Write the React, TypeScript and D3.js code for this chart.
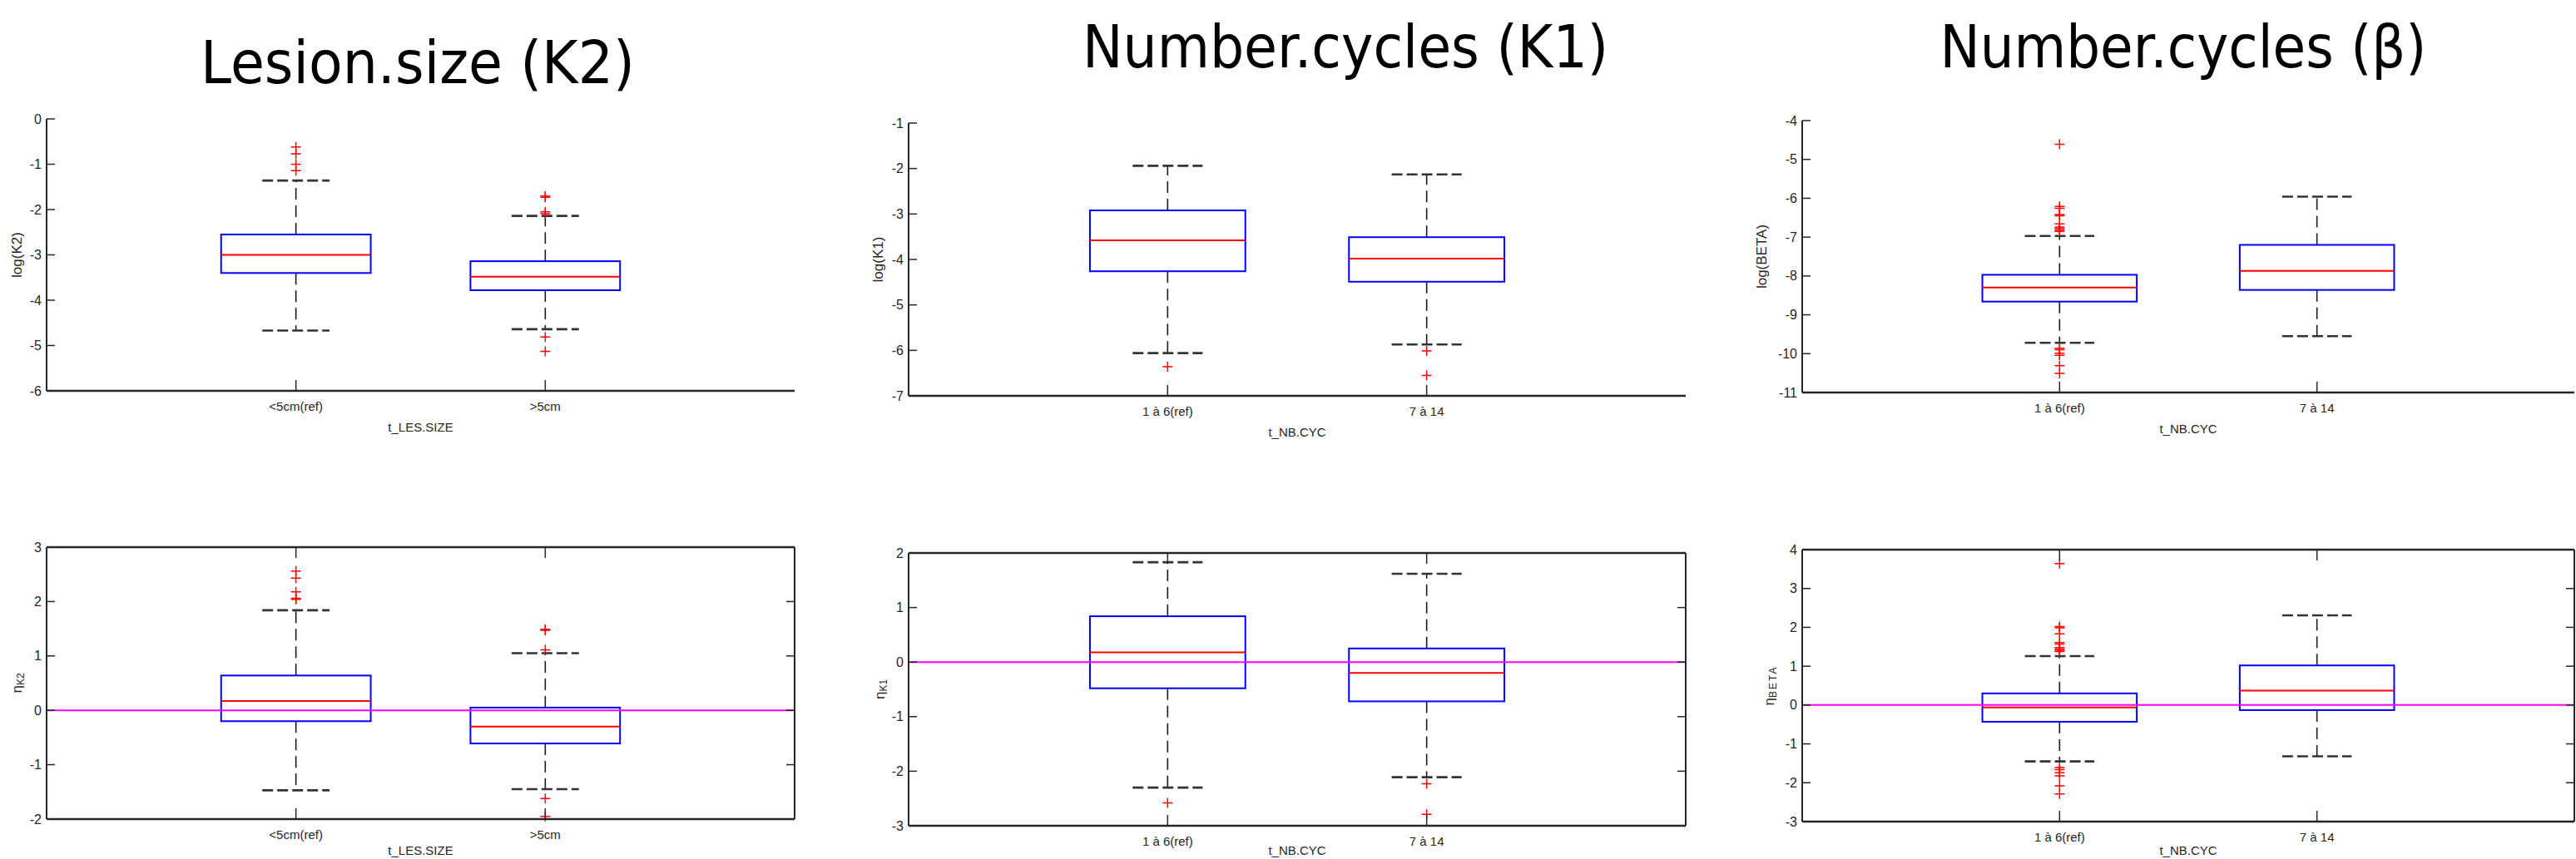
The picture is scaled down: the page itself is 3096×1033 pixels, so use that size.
import React from "react";
import { scaleLinear } from "d3";

const lesionGroups = ["<5cm(ref)", ">5cm"];
const cycleGroups = ["1 à 6(ref)", "7 à 14"];
const titles = ["Lesion.size (K2)", "Number.cycles (K1)", "Number.cycles (β)"];

// each box: [lower whisker, Q1, median, Q3, upper whisker]
const logK2Boxes = [
  [-4.67, -3.4, -3.0, -2.55, -1.36],
  [-4.64, -3.78, -3.48, -3.14, -2.14]
];
const logK2Outliers = [
  [-0.62, -0.77, -1.0, -1.14],
  [-1.7, -1.73, -2.05, -2.09, -4.81, -5.13]
];
const logK1Boxes = [
  [-6.06, -4.26, -3.58, -2.92, -1.94],
  [-5.87, -4.49, -3.98, -3.51, -2.13]
];
const logK1Outliers = [[-6.36], [-6.01, -6.55]];
const logBetaBoxes = [
  [-9.72, -8.66, -8.3, -7.97, -6.97],
  [-9.55, -8.36, -7.87, -7.2, -5.96]
];
const logBetaOutliers = [
  [-4.61, -6.21, -6.26, -6.42, -6.45, -6.66, -6.74, -6.78, -6.82, -6.85,
    -9.86, -9.9, -9.99, -10.04, -10.31, -10.51],
  []
];
const etaK2Boxes = [
  [-1.47, -0.2, 0.17, 0.64, 1.84],
  [-1.45, -0.61, -0.3, 0.05, 1.05]
];
const etaK2Outliers = [
  [2.56, 2.43, 2.18, 2.06, 2.04],
  [1.49, 1.47, 1.11, -1.62, -1.95]
];
const etaK1Boxes = [
  [-2.3, -0.48, 0.18, 0.84, 1.83],
  [-2.11, -0.72, -0.2, 0.25, 1.62]
];
const etaK1Outliers = [[-2.58], [-2.23, -2.79]];
const etaBetaBoxes = [
  [-1.45, -0.43, -0.06, 0.3, 1.26],
  [-1.32, -0.13, 0.37, 1.02, 2.31]
];
const etaBetaOutliers = [
  [3.64, 2.02, 1.99, 1.83, 1.61, 1.57, 1.48, 1.44, 1.41, 1.38,
    -1.61, -1.66, -1.74, -1.82, -2.08, -2.29],
  []
];

const logK2Ticks = [0, -1, -2, -3, -4, -5, -6];
const logK1Ticks = [-1, -2, -3, -4, -5, -6, -7];
const logBetaTicks = [-4, -5, -6, -7, -8, -9, -10, -11];
const etaK2Ticks = [3, 2, 1, 0, -1, -2];
const etaK1Ticks = [2, 1, 0, -1, -2, -3];
const etaBetaTicks = [4, 3, 2, 1, 0, -1, -2, -3];

const AXIS = "#262626";
const tickFont = "'Liberation Sans', Arial, sans-serif";

function Panel({ left, right, top, bottom, ticks, boxes, outliers, groups, xlabel, ylabel, sub, ylabelX, framed }) {
  const y = scaleLinear()
    .domain([ticks[ticks.length - 1], ticks[0]])
    .range([bottom, top]);
  const x = scaleLinear().domain([0, 3]).range([left, right]);
  const unit = x(1) - x(0);
  // bottom row labels sit right at the lower edge of the picture
  const xlabelY = framed ? 1028 : bottom + 49;

  return (
    <g>
      {boxes.map((b, i) => {
        const cx = x(i + 1);
        const [lo, q1, med, q3, hi] = b;
        const capW = 0.135 * unit;
        const boxW = 0.3 * unit;
        return (
          <g key={i}>
            <line x1={cx} x2={cx} y1={y(q3)} y2={y(hi)} stroke="#1a1a1a" strokeWidth={1.6} strokeDasharray="14 7" />
            <line x1={cx} x2={cx} y1={y(q1)} y2={y(lo)} stroke="#1a1a1a" strokeWidth={1.6} strokeDasharray="14 7" />
            <line x1={cx - capW} x2={cx + capW} y1={y(hi)} y2={y(hi)} stroke="#333" strokeWidth={2.6} strokeDasharray="13 5" />
            <line x1={cx - capW} x2={cx + capW} y1={y(lo)} y2={y(lo)} stroke="#333" strokeWidth={2.6} strokeDasharray="13 5" />
            <rect x={cx - boxW} y={y(q3)} width={2 * boxW} height={y(q1) - y(q3)} fill="none" stroke="#0000ff" strokeWidth={2} />
            <line x1={cx - boxW} x2={cx + boxW} y1={y(med)} y2={y(med)} stroke="#ff0000" strokeWidth={2} />
            {outliers[i].map((o, j) => (
              <path key={j} d={`M${cx - 6},${y(o)}H${cx + 6}M${cx},${y(o) - 6}V${y(o) + 6}`} stroke="#ff0000" strokeWidth={1.5} />
            ))}
          </g>
        );
      })}

      {framed && (
        <line x1={left} x2={right} y1={y(0)} y2={y(0)} stroke="#ff00ff" strokeWidth={2} />
      )}

      {/* axes */}
      <line x1={left} x2={left} y1={top} y2={bottom} stroke={AXIS} strokeWidth={2} />
      <line x1={left} x2={right} y1={bottom} y2={bottom} stroke={AXIS} strokeWidth={2.5} />
      {framed && (
        <g>
          <line x1={left} x2={right} y1={top} y2={top} stroke={AXIS} strokeWidth={2.5} />
          <line x1={right} x2={right} y1={top} y2={bottom} stroke={AXIS} strokeWidth={2} />
        </g>
      )}

      {ticks.map(t => (
        <g key={t}>
          <line x1={left} x2={left + 10} y1={y(t)} y2={y(t)} stroke={AXIS} strokeWidth={1.5} />
          {framed && <line x1={right} x2={right - 10} y1={y(t)} y2={y(t)} stroke={AXIS} strokeWidth={1.5} />}
          <text x={left - 6} y={y(t)} textAnchor="end" dominantBaseline="central" fontFamily={tickFont} fontSize={16} fill={AXIS}>
            {String(t)}
          </text>
        </g>
      ))}

      {groups.map((g, i) => (
        <g key={g}>
          <line x1={x(i + 1)} x2={x(i + 1)} y1={bottom} y2={bottom - 13} stroke={AXIS} strokeWidth={1.5} />
          {framed && <line x1={x(i + 1)} x2={x(i + 1)} y1={top} y2={top + 13} stroke={AXIS} strokeWidth={1.5} />}
          <text x={x(i + 1)} y={bottom + 24} textAnchor="middle" fontFamily={tickFont} fontSize={15} fill={AXIS}>
            {g}
          </text>
        </g>
      ))}

      <text x={(left + right) / 2} y={xlabelY} textAnchor="middle" fontFamily={tickFont} fontSize={15} fill={AXIS}>
        {xlabel}
      </text>

      <text
        transform={`translate(${ylabelX}, ${(top + bottom) / 2}) rotate(-90)`}
        textAnchor="middle"
        dominantBaseline="central"
        fontFamily={tickFont}
        fontSize={17}
        fill={AXIS}
      >
        {ylabel}
        {sub && (
          <tspan fontSize={12} dy={5} letterSpacing={sub === "BETA" ? 2 : 0}>
            {sub}
          </tspan>
        )}
      </text>
    </g>
  );
}

const columns = [
  { left: 56, right: 955, title: { x: 502, y: 100, w: 522 } },
  { left: 1092, right: 2026, title: { x: 1617, y: 81, w: 632 } },
  { left: 2166, right: 3094, title: { x: 2624, y: 81, w: 585 } }
];

export default function App() {
  const width = 3096,
    height = 1033;

  const topRow = [
    { top: 143, bottom: 470, ticks: logK2Ticks, boxes: logK2Boxes, outliers: logK2Outliers, groups: lesionGroups, xlabel: "t_LES.SIZE", ylabel: "log(K2)", ylabelX: 20 },
    { top: 148, bottom: 476, ticks: logK1Ticks, boxes: logK1Boxes, outliers: logK1Outliers, groups: cycleGroups, xlabel: "t_NB.CYC", ylabel: "log(K1)", ylabelX: 1055 },
    { top: 145, bottom: 472, ticks: logBetaTicks, boxes: logBetaBoxes, outliers: logBetaOutliers, groups: cycleGroups, xlabel: "t_NB.CYC", ylabel: "log(BETA)", ylabelX: 2117 }
  ];
  const bottomRow = [
    { top: 658, bottom: 985, ticks: etaK2Ticks, boxes: etaK2Boxes, outliers: etaK2Outliers, groups: lesionGroups, xlabel: "t_LES.SIZE", ylabel: "η", sub: "K2", ylabelX: 20 },
    { top: 665, bottom: 993, ticks: etaK1Ticks, boxes: etaK1Boxes, outliers: etaK1Outliers, groups: cycleGroups, xlabel: "t_NB.CYC", ylabel: "η", sub: "K1", ylabelX: 1057 },
    { top: 661, bottom: 988, ticks: etaBetaTicks, boxes: etaBetaBoxes, outliers: etaBetaOutliers, groups: cycleGroups, xlabel: "t_NB.CYC", ylabel: "η", sub: "BETA", ylabelX: 2126 }
  ];

  return (
    <svg
      width={width}
      height={height}
      style={{ position: "absolute", left: 0, top: 0, background: "#fff" }}
    >
      <rect width={width} height={height} fill="#fff" />
      {columns.map((c, i) => (
        <g key={i}>
          <text
            x={c.title.x}
            y={c.title.y}
            textAnchor="middle"
            fontFamily="'DejaVu Sans', Verdana, sans-serif"
            fontSize={72}
            textLength={c.title.w}
            lengthAdjust="spacingAndGlyphs"
            fill="#000"
          >
            {titles[i]}
          </text>
          <Panel left={c.left} right={c.right} {...topRow[i]} framed={false} />
          <Panel left={c.left} right={c.right} {...bottomRow[i]} framed={true} />
        </g>
      ))}
    </svg>
  );
}
